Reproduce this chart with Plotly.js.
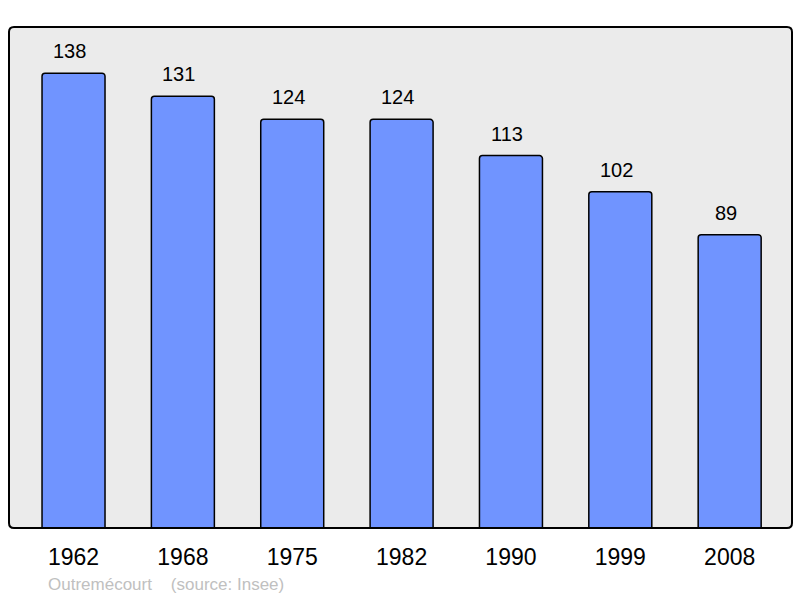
<!DOCTYPE html>
<html>
<head>
<meta charset="utf-8">
<script src="https://cdn.plot.ly/plotly-3.0.1.min.js"></script>
<style>html,body{margin:0;padding:0;background:#fff;}#chart{width:800px;height:598px;}</style>
</head>
<body>
<div id="chart"></div>
<script>
const years = ["1962","1968","1975","1982","1990","1999","2008"];
const population = [138,131,124,124,113,102,89];
const footer = "Outremécourt &nbsp;&nbsp;&nbsp;(source: Insee)";

const idx = years.map((_, i) => i);
const W = 800, H = 598;
const m = {l: 9, r: 8, t: 27, b: 70};
const pw = W - m.l - m.r, ph = H - m.t - m.b;
const rad = 5;
const rx = rad / pw, ry = rad / ph;
const borderPath = `M ${rx},0 L ${1-rx},0 Q 1,0 1,${ry} L 1,${1-ry} Q 1,1 ${1-rx},1 L ${rx},1 Q 0,1 0,${1-ry} L 0,${ry} Q 0,0 ${rx},0 Z`;

const trace = {
  type: 'bar',
  x: idx,
  y: population,
  width: 0.576,
  marker: {color: '#7094ff', line: {color: '#000', width: 1.5}, cornerradius: 3},
  hoverinfo: 'none'
};

const annotations = idx.map(i => ({
  x: i, y: population[i], xref: 'x', yref: 'y',
  text: String(population[i]), showarrow: false,
  yshift: 22, xshift: -4,
  font: {family: 'Liberation Sans, Arial, sans-serif', size: 20, color: '#000'}
}));
annotations.push({
  xref: 'paper', yref: 'paper', x: (46 - m.l) / pw, y: -(584 - 528) / ph,
  xanchor: 'left', yanchor: 'middle', showarrow: false,
  text: footer, font: {family: 'Liberation Sans, Arial, sans-serif', size: 17, color: '#c0c0c0'}
});

const layout = {
  width: W, height: H,
  margin: m,
  paper_bgcolor: '#fff',
  plot_bgcolor: 'rgba(0,0,0,0)',
  showlegend: false,
  xaxis: {
    range: [-0.59, 6.57], tickvals: idx, ticktext: years,
    showgrid: false, zeroline: false, showline: false, ticks: '',
    ticklabelstandoff: 13,
    tickfont: {family: 'Liberation Sans, Arial, sans-serif', size: 23, color: '#000'}
  },
  yaxis: {
    range: [0, 152], showgrid: false, zeroline: false, showline: false,
    showticklabels: false, ticks: ''
  },
  shapes: [
    {type: 'path', xref: 'paper', yref: 'paper', path: borderPath,
     fillcolor: '#ebebeb', line: {width: 0}, layer: 'below'},
    {type: 'path', xref: 'paper', yref: 'paper', path: borderPath,
     fillcolor: 'rgba(0,0,0,0)', line: {color: '#000', width: 2}, layer: 'above'}
  ],
  annotations: annotations
};

Plotly.newPlot('chart', [trace], layout, {staticPlot: true, displayModeBar: false});
</script>
</body>
</html>
